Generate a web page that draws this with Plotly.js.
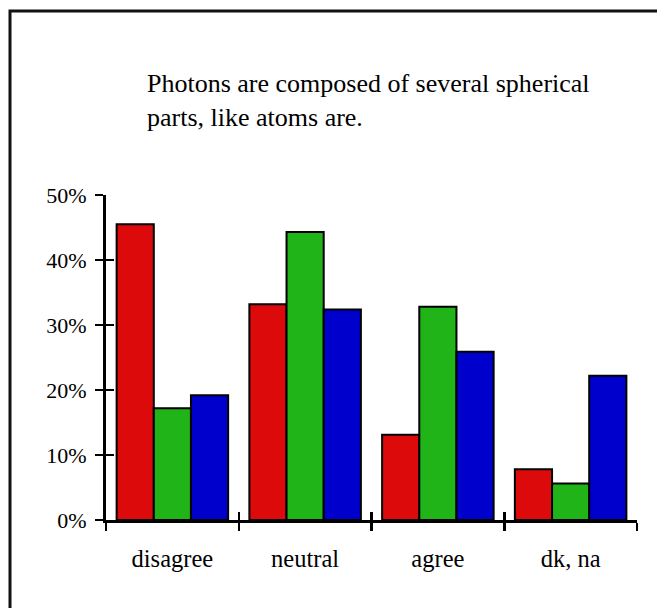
<!DOCTYPE html>
<html>
<head>
<meta charset="utf-8">
<script src="https://cdn.plot.ly/plotly-3.0.1.min.js"></script>
<style>
  html, body { margin: 0; padding: 0; background: #fff; }
  #chart { width: 657px; height: 608px; }
</style>
</head>
<body>
<div id="chart"></div>
<script>
// Survey responses: share of each group choosing each answer
const categories = ["disagree", "neutral", "agree", "dk, na"];
const redValues   = [45.5, 33.2, 13.1, 7.8];
const greenValues = [17.2, 44.3, 32.8, 5.6];
const blueValues  = [19.2, 32.4, 25.9, 22.2];
const yTickValues = [0, 10, 20, 30, 40, 50];
const yTickLabels = ["0%", "10%", "20%", "30%", "40%", "50%"];
const boundaryTicks = [-0.5, 0.5, 1.5, 2.5, 3.5];
const titleText = "Photons are composed of several spherical<br>parts, like atoms are.";

const serif = "Liberation Serif, Times New Roman, serif";

function barTrace(name, values, color) {
  return {
    type: "bar",
    name: name,
    x: categories,
    y: values,
    marker: { color: color, line: { color: "#000", width: 2 } },
    hoverinfo: "skip",
    showlegend: false
  };
}

const traces = [
  barTrace("group 1", redValues, "#dc0a0a"),
  barTrace("group 2", greenValues, "#21b419"),
  barTrace("group 3", blueValues, "#0000cc"),
  // empty trace that brings up the overlay axes carrying the inner half of each tick
  { type: "scatter", x: [], y: [], xaxis: "x2", yaxis: "y2", showlegend: false, hoverinfo: "skip" }
];

const W = 657, H = 608;
const M = { l: 106, r: 20, t: 195, b: 88 };
const plotW = W - M.l - M.r, plotH = H - M.t - M.b;
const px = v => (v - M.l) / plotW;
const py = v => (H - M.b - v) / plotH;

const tickStyle = { ticklen: 8, tickwidth: 2.5, tickcolor: "#000" };

const layout = {
  width: W,
  height: H,
  margin: M,
  paper_bgcolor: "#fff",
  plot_bgcolor: "#fff",
  font: { family: serif, color: "#000", size: 22 },
  barmode: "group",
  bargap: 0.16,
  bargroupgap: 0,
  title: {
    text: titleText,
    font: { family: serif, size: 26, color: "#000" },
    xref: "container",
    yref: "container",
    x: 147 / W,
    xanchor: "left",
    y: 1 - 92 / H,
    yanchor: "top",
    align: "left"
  },
  xaxis: Object.assign({
    type: "category",
    categories: categories,
    tickson: "boundaries",
    ticks: "outside",
    showline: true,
    linecolor: "#000",
    linewidth: 3,
    showgrid: false,
    zeroline: false,
    tickfont: { family: serif, size: 24.5, color: "#000" },
    ticklabelstandoff: 15,
    fixedrange: true
  }, tickStyle),
  xaxis2: Object.assign({
    overlaying: "x",
    anchor: "y",
    side: "bottom",
    range: [-0.5, 3.5],
    tickmode: "array",
    tickvals: boundaryTicks,
    ticks: "inside",
    showticklabels: false,
    showgrid: false,
    zeroline: false,
    showline: false,
    fixedrange: true
  }, tickStyle),
  yaxis: Object.assign({
    range: [0, 50],
    tickmode: "array",
    tickvals: yTickValues,
    ticktext: yTickLabels,
    ticks: "outside",
    showline: true,
    linecolor: "#000",
    linewidth: 3,
    showgrid: false,
    zeroline: false,
    tickfont: { family: serif, size: 22, color: "#000" },
    ticklabelstandoff: 4,
    fixedrange: true
  }, tickStyle),
  yaxis2: Object.assign({
    overlaying: "y",
    anchor: "x",
    side: "left",
    range: [0, 50],
    tickmode: "array",
    tickvals: yTickValues,
    ticks: "inside",
    showticklabels: false,
    showgrid: false,
    zeroline: false,
    showline: false,
    fixedrange: true
  }, tickStyle),
  shapes: [{
    type: "rect",
    xref: "paper",
    yref: "paper",
    x0: px(10), x1: px(720),
    y0: py(11), y1: py(720),
    line: { color: "#111", width: 3 },
    fillcolor: "rgba(0,0,0,0)",
    layer: "above"
  }]
};

Plotly.newPlot("chart", traces, layout, { displayModeBar: false, staticPlot: true });
</script>
</body>
</html>
